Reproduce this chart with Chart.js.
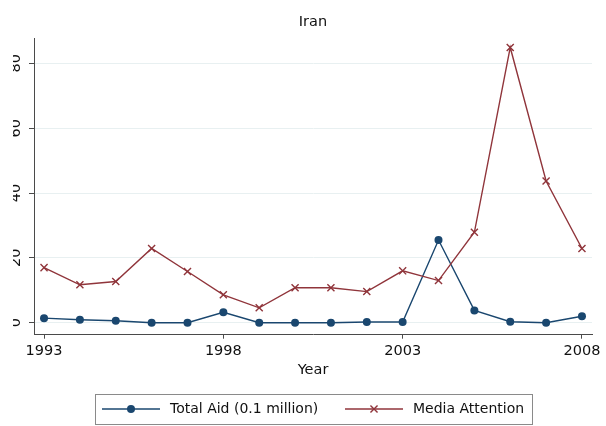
<!DOCTYPE html>
<html>
<head>
<meta charset="utf-8">
<title>Iran</title>
<script src="https://cdn.jsdelivr.net/npm/chart.js@4.4.1/dist/chart.umd.min.js"></script>
<style>
  html, body { margin: 0; padding: 0; background: #fff; }
  #wrap { width: 606px; height: 426px; }
</style>
</head>
<body>
<div id="wrap"><canvas id="iranChart" width="606" height="426"></canvas></div>
<script>
// yearly values
const years = [1993, 1994, 1995, 1996, 1997, 1998, 1999, 2000, 2001, 2002, 2003, 2004, 2005, 2006, 2007, 2008];
const totalAid = [1.4, 0.9, 0.6, 0, 0, 3.2, 0, 0, 0, 0.2, 0.2, 25.5, 3.8, 0.3, 0, 2.0];
const mediaAttention = [17, 11.7, 12.7, 22.9, 15.8, 8.6, 4.6, 10.8, 10.8, 9.6, 16, 13, 27.9, 84.9, 43.7, 22.9];
const seriesNames = ['Total Aid (0.1 million)', 'Media Attention'];
const xTicks = [1993, 1998, 2003, 2008];
const yTicks = [0, 20, 40, 60, 80];

const NAVY = '#1a476f';
const MAROON = '#90353b';
const AXIS = '#4a4a4a';
const FAMILY = '"DejaVu Sans", "Liberation Sans", sans-serif';
const baseFont = { family: FAMILY, size: 14.5, weight: 'normal' };

// y labels are turned sideways and cut at the left edge; legend is a boxed row with line+marker samples
const stataExtras = {
    id: 'stataExtras',
    afterDraw(chart) {
        const ctx = chart.ctx;
        const yScale = chart.scales.y;

        ctx.save();
        ctx.beginPath();
        ctx.rect(13, 0, 21, chart.height);
        ctx.clip();
        ctx.font = '14.5px ' + FAMILY;
        ctx.fillStyle = '#111';
        ctx.textAlign = 'center';
        ctx.textBaseline = 'alphabetic';
        yTicks.forEach(function(v) {
            ctx.save();
            ctx.translate(20, yScale.getPixelForValue(v));
            ctx.rotate(-Math.PI / 2);
            ctx.fillText(String(v), 0, 0);
            ctx.restore();
        });
        ctx.restore();

        // legend
        const ly = 409;
        ctx.save();
        ctx.strokeStyle = '#8a8a8a';
        ctx.lineWidth = 1;
        ctx.strokeRect(95.5, 394.5, 437, 30);

        const items = [
            { x0: 102, x1: 160, tx: 170 },
            { x0: 345, x1: 403, tx: 413 }
        ];
        chart.data.datasets.forEach(function(ds, i) {
            const it = items[i];
            ctx.strokeStyle = ds.borderColor;
            ctx.fillStyle = ds.backgroundColor;
            ctx.lineWidth = ds.borderWidth;
            ctx.beginPath();
            ctx.moveTo(it.x0, ly);
            ctx.lineTo(it.x1, ly);
            ctx.stroke();
            ctx.lineWidth = ds.pointBorderWidth || 1;
            Chart.helpers.drawPoint(ctx, {
                pointStyle: ds.pointStyle,
                radius: ds.pointRadius,
                rotation: 0,
                borderWidth: ds.pointBorderWidth
            }, (it.x0 + it.x1) / 2, ly);
            ctx.fillStyle = '#111';
            ctx.font = '14px ' + FAMILY;
            ctx.textAlign = 'left';
            ctx.textBaseline = 'middle';
            ctx.fillText(ds.label, it.tx, ly);
        });
        ctx.restore();
    }
};

const ctx = document.getElementById('iranChart').getContext('2d');
new Chart(ctx, {
    type: 'line',
    data: {
        datasets: [
            {
                label: seriesNames[0],
                data: years.map((yr, i) => ({ x: yr, y: totalAid[i] })),
                borderColor: NAVY,
                backgroundColor: NAVY,
                borderWidth: 1.4,
                pointStyle: 'circle',
                pointRadius: 4,
                pointBorderWidth: 0,
                tension: 0,
                order: 1
            },
            {
                label: seriesNames[1],
                data: years.map((yr, i) => ({ x: yr, y: mediaAttention[i] })),
                borderColor: MAROON,
                backgroundColor: MAROON,
                borderWidth: 1.4,
                pointStyle: 'crossRot',
                pointRadius: 5,
                pointBorderWidth: 1.4,
                tension: 0,
                order: 0
            }
        ]
    },
    options: {
        responsive: false,
        animation: false,
        events: [],
        layout: { padding: { left: 0, right: 14, top: 0, bottom: 46 } },
        plugins: {
            legend: { display: false },
            tooltip: { enabled: false },
            title: {
                display: true,
                fullSize: false,
                text: 'Iran',
                color: '#111',
                font: baseFont,
                padding: { top: 14, bottom: 7 }
            }
        },
        scales: {
            x: {
                type: 'linear',
                min: 1992.72,
                max: 2008.28,
                afterBuildTicks: s => { s.ticks = xTicks.map(v => ({ value: v })); },
                afterFit: s => { s.height = 45.3; s.paddingLeft = 0; s.paddingRight = 0; },
                grid: { drawOnChartArea: false, tickLength: 4, tickColor: AXIS },
                border: { color: AXIS, width: 1 },
                ticks: {
                    color: '#111',
                    font: baseFont,
                    padding: 4,
                    maxRotation: 0,
                    autoSkip: false,
                    callback: v => String(v)
                },
                title: {
                    display: true,
                    text: 'Year',
                    color: '#111',
                    font: baseFont,
                    padding: { top: 0, bottom: 1.5 }
                }
            },
            y: {
                min: -3.7,
                max: 87.7,
                afterBuildTicks: s => { s.ticks = yTicks.map(v => ({ value: v })); },
                afterFit: s => { s.width = 34; },
                grid: { color: '#e8f0f1', lineWidth: 1, tickColor: AXIS, tickLength: 5 },
                border: { color: AXIS, width: 1 },
                ticks: { display: false }
            }
        }
    },
    plugins: [stataExtras]
});
</script>
</body>
</html>
